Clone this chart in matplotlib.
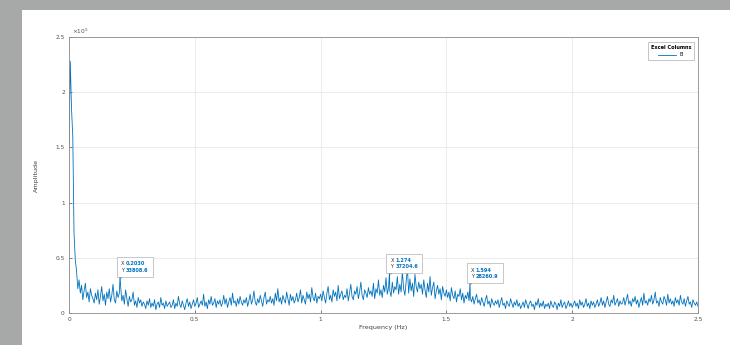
import numpy as np
import matplotlib
matplotlib.use("Agg")
from matplotlib import pyplot as plt
from matplotlib.patches import Rectangle
from matplotlib.offsetbox import TextArea, HPacker, AnnotationBbox

# %% spectrum data (amplitude in thousands, one bin every 0.005 Hz, 20 bins per row)

freq_step = 0.005
amp_k = [
    150, 228, 185, 160, 72, 48, 38, 22, 30, 18, 25, 12, 20, 27, 14, 19, 10, 22, 16, 13,
    9, 18, 12, 21, 8, 15, 24, 11, 17, 7, 19, 13, 22, 10, 16, 26, 12, 9, 20, 14,
    18, 25, 11, 16, 8, 21, 13, 6, 15, 10, 12, 19, 7, 11, 5, 14, 9, 12, 6, 10,
    8, 4, 11, 7, 13, 5, 9, 6, 12, 3, 8, 10, 5, 14, 7, 9, 4, 11, 6, 8,
    10, 5, 7, 12, 4, 9, 6, 15, 8, 5, 11, 7, 3, 9, 13, 6, 10, 4, 8, 12,
    6, 9, 14, 5, 8, 11, 7, 17, 6, 10, 4, 12, 8, 15, 7, 9, 13, 5, 11, 8,
    12, 6, 9, 16, 8, 13, 5, 10, 14, 7, 18, 9, 11, 6, 13, 8, 15, 10, 7, 12,
    9, 14, 6, 11, 17, 8, 12, 20, 10, 7, 13, 9, 16, 11, 6, 14, 19, 8, 12, 10,
    15, 9, 13, 7, 18, 11, 22, 10, 14, 8, 16, 12, 9, 19, 13, 7, 17, 11, 15, 9,
    12, 18, 10, 14, 21, 9, 16, 12, 8, 19, 13, 17, 10, 23, 14, 11, 18, 9, 15, 13,
    17, 11, 20, 14, 9, 18, 24, 12, 16, 10, 21, 15, 19, 11, 25, 13, 17, 20, 12, 16,
    14, 22, 11, 18, 26, 15, 12, 20, 17, 24, 13, 19, 28, 16, 12, 21, 18, 14, 23, 17,
    20, 15, 27, 13, 22, 18, 30, 16, 21, 14, 25, 19, 32, 17, 23, 20, 15, 28, 18, 24,
    21, 33, 17, 26, 19, 38, 22, 16, 29, 41, 18, 31, 20, 27, 15, 35, 24, 19, 28, 22,
    26, 17, 30, 21, 14, 27, 19, 33, 16, 23, 28, 13, 20, 25, 17, 22, 12, 24, 18, 15,
    21, 14, 19, 11, 23, 16, 13, 20, 10, 17, 15, 22, 12, 18, 9, 16, 13, 19, 11, 14,
    10, 15, 8, 13, 17, 9, 12, 7, 14, 10, 6, 12, 16, 8, 11, 5, 13, 9, 7, 11,
    8, 12, 5, 10, 14, 7, 9, 4, 11, 8, 6, 13, 9, 5, 10, 7, 12, 6, 9, 4,
    7, 10, 5, 12, 8, 4, 9, 11, 6, 8, 3, 10, 7, 13, 5, 9, 6, 11, 4, 8,
    6, 9, 4, 11, 7, 5, 10, 8, 3, 9, 6, 12, 5, 8, 10, 4, 7, 11, 6, 9,
    5, 8, 11, 6, 9, 4, 12, 7, 10, 5, 8, 13, 6, 9, 4, 11, 7, 10, 5, 8,
    12, 6, 9, 14, 7, 11, 5, 10, 15, 8, 6, 12, 9, 16, 7, 10, 13, 6, 11, 8,
    9, 14, 7, 12, 17, 8, 11, 6, 13, 10, 15, 8, 12, 5, 10, 14, 7, 18, 9, 11,
    7, 13, 10, 16, 8, 12, 19, 9, 11, 6, 14, 10, 8, 15, 12, 7, 17, 9, 13, 8,
    11, 6, 14, 9, 12, 7, 16, 10, 8, 13, 6, 11, 15, 8, 10, 5, 12, 9, 7, 10,
    6,
]

# data tips placed on the curve
tip_x = [0.2030, 1.274, 1.594]
tip_y = [33808.6, 37204.6, 28260.9]

# %% build the series

freq = np.arange(len(amp_k)) * freq_step
amp = np.array(amp_k, dtype=float) * 1000

freq = np.concatenate((freq, tip_x))
amp = np.concatenate((amp, tip_y))
order = np.argsort(freq)
freq, amp = freq[order], amp[order]

# %% figure

matlab_blue = "#0072BD"
ax_color = "#505050"

fig = plt.figure(figsize=(7.3, 3.45), dpi=100, facecolor="#a7a8a8")
fig.add_artist(Rectangle((22 / 730, 0), 1, 1 - 10 / 345, transform=fig.transFigure,
                         facecolor="white", edgecolor="none", zorder=-5))

ax = fig.add_axes([69 / 730, 1 - 313 / 345, (698 - 69) / 730, (313 - 37) / 345])
ax.set_zorder(2)
ax.plot(freq, amp, color=matlab_blue, lw=0.6, label="B")

ax.set_xlim(0, 2.5)
ax.set_ylim(0, 2.5e5)
ax.set_xticks(np.arange(0, 2.51, 0.5))
ax.set_xticklabels(["0", "0.5", "1", "1.5", "2", "2.5"])
ax.set_yticks(np.arange(0, 2.51e5, 0.5e5))
ax.set_yticklabels(["0", "0.5", "1", "1.5", "2", "2.5"])
ax.tick_params(direction="in", length=2.5, width=0.5, labelsize=4.2, colors=ax_color, pad=3)
for s in ax.spines.values():
    s.set_color("#8a8a8a")
    s.set_linewidth(0.6)
ax.grid(True, color="#e4e4e4", lw=0.5)
ax.set_axisbelow(True)

ax.text(0.004, 1.005, r"$\times10^{5}$", transform=ax.transAxes, fontsize=4.2,
        color=ax_color, ha="left", va="bottom")
ax.set_xlabel("Frequency (Hz)", fontsize=4.6, color="#404040", labelpad=2)
ax.set_ylabel("Amplitude", fontsize=4.6, color="#404040", labelpad=12)

leg = ax.legend(title="Excel Columns", loc="upper right", fontsize=3.6, title_fontsize=3.6,
                frameon=True, fancybox=False, edgecolor="#9a9a9a", handlelength=3.5,
                borderpad=0.5, bbox_to_anchor=(0.997, 0.99))
leg.get_frame().set_linewidth(0.5)
leg.get_title().set_fontweight("bold")

# data tips: dark X/Y labels next to blue values, framed together
for x, y in zip(tip_x, tip_y):
    xs = f"{x:.4f}" if x < 1 else f"{x:.3f}"
    ax.plot(x, y, "s", color="#202020", ms=1.6, zorder=5)
    tp = dict(fontsize=3.6, linespacing=1.3)
    keys = TextArea("X\nY", textprops=dict(color="#303030", **tp))
    vals = TextArea(f"{xs}\n{y:.1f}", textprops=dict(color=matlab_blue, fontweight="bold", **tp))
    box = HPacker(children=[keys, vals], align="baseline", pad=0, sep=1.2)
    ab = AnnotationBbox(box, (x, y), xybox=(0.6, 2.2), xycoords="data",
                        boxcoords="offset points", box_alignment=(0, 0), pad=0.3,
                        frameon=True, zorder=6)
    ab.patch.set(facecolor="white", edgecolor="#b0b0b0", linewidth=0.5)
    ax.add_artist(ab)

fig.savefig("out.png", dpi=100, facecolor=fig.get_facecolor())
